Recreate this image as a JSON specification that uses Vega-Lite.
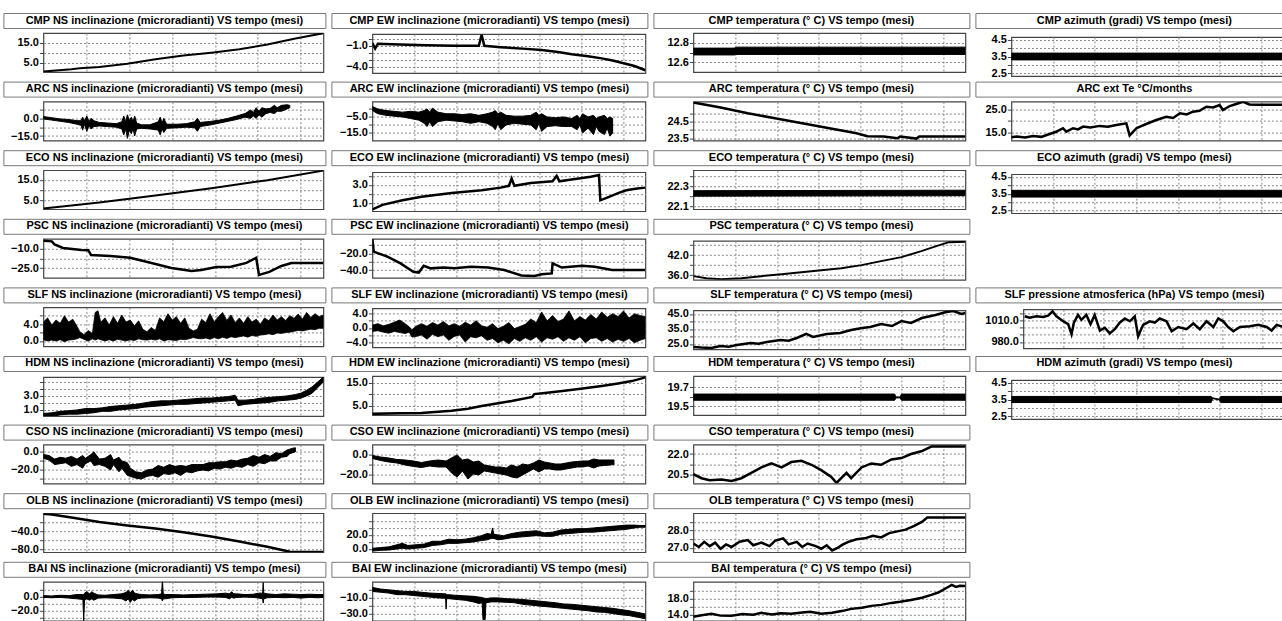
{
"$schema":"https://vega.github.io/schema/vega-lite/v6.json",
"padding":{"left":2.4,"top":12,"right":0,"bottom":0},
"background":"white",
"columns":4,
"align":{"row":"all","column":"each"},
"spacing":{"row":-4.4,"column":4},
"datasets":{
"cmpns":[{"t":0,"v":0.7},{"t":10,"v":1.9},{"t":13,"v":2.4},{"t":20,"v":3.0},{"t":30,"v":4.6},{"t":40,"v":6.8},{"t":46,"v":7.9},{"t":50,"v":8.6},{"t":60,"v":10.0},{"t":70,"v":11.7},{"t":80,"v":14.0},{"t":90,"v":17.0},{"t":100,"v":19.6}],
"cmpew":[{"t":0,"v":-0.6},{"t":1,"v":-1.4},{"t":2,"v":-0.7},{"t":10,"v":-0.8},{"t":20,"v":-0.9},{"t":30,"v":-1.0},{"t":39,"v":-1.0},{"t":40,"v":0.6},{"t":41,"v":-1.0},{"t":47,"v":-1.2},{"t":55,"v":-1.4},{"t":62,"v":-1.6},{"t":68,"v":-1.9},{"t":73,"v":-2.2},{"t":79,"v":-2.5},{"t":84,"v":-2.8},{"t":88,"v":-3.1},{"t":92,"v":-3.5},{"t":96,"v":-3.9},{"t":100,"v":-4.5}],
"cmpt":[{"t":0,"l":12.675,"h":12.745},{"t":15,"l":12.675,"h":12.745},{"t":16,"l":12.68,"h":12.755},{"t":100,"l":12.68,"h":12.755}],
"az":[{"t":0,"l":3.3,"h":3.7},{"t":103,"l":3.3,"h":3.7}],
"arcns":[{"t":0,"l":-0.5,"h":1.5},{"t":3,"l":-1.5,"h":0.5},{"t":6,"l":-2.5,"h":-0.5},{"t":9,"l":-3.5,"h":-1},{"t":12,"l":-5,"h":-2},{"t":13.5,"l":-6,"h":-2},{"t":14,"l":-10,"h":1},{"t":14.7,"l":-5,"h":-2},{"t":15.5,"l":-11,"h":2},{"t":16.3,"l":-6,"h":-3},{"t":17,"l":-9,"h":0},{"t":18,"l":-7,"h":-2},{"t":20,"l":-6.5,"h":-3.5},{"t":23,"l":-7,"h":-4},{"t":26,"l":-7.5,"h":-4.5},{"t":28,"l":-9,"h":-3},{"t":28.7,"l":-14,"h":2},{"t":29.4,"l":-9,"h":-3},{"t":30,"l":-17,"h":3},{"t":30.7,"l":-10,"h":-2},{"t":31.4,"l":-13,"h":1},{"t":32,"l":-9,"h":-3},{"t":32.6,"l":-15,"h":2},{"t":33.3,"l":-9,"h":-4},{"t":35,"l":-8.5,"h":-5.5},{"t":38,"l":-9,"h":-5.5},{"t":41,"l":-10,"h":-3},{"t":41.7,"l":-14,"h":1},{"t":42.4,"l":-9,"h":-4},{"t":43,"l":-12,"h":0},{"t":44,"l":-8.5,"h":-5},{"t":48,"l":-8,"h":-5},{"t":51,"l":-7.5,"h":-4.5},{"t":54,"l":-8,"h":-3},{"t":55,"l":-11,"h":0},{"t":56,"l":-7,"h":-3.5},{"t":60,"l":-5.5,"h":-2.5},{"t":63,"l":-4,"h":-1.5},{"t":66,"l":-2.5,"h":0},{"t":69,"l":-1,"h":2},{"t":72,"l":1,"h":4},{"t":74,"l":0,"h":7},{"t":75,"l":2,"h":5},{"t":76,"l":0,"h":9},{"t":77,"l":3,"h":6},{"t":78,"l":1,"h":9},{"t":79.5,"l":4,"h":8},{"t":81,"l":5,"h":8.5},{"t":82.5,"l":4,"h":11},{"t":83.5,"l":6,"h":9},{"t":85,"l":6,"h":11},{"t":87,"l":8,"h":11.5},{"t":88,"l":9,"h":11}],
"arcew":[{"t":0,"l":-1,"h":1.5},{"t":2,"l":-3,"h":0},{"t":5,"l":-4,"h":-1},{"t":8,"l":-4.5,"h":-1.5},{"t":11,"l":-5,"h":-2},{"t":14,"l":-6,"h":-1.5},{"t":17,"l":-7,"h":-2},{"t":19,"l":-9,"h":-1},{"t":20,"l":-11,"h":0},{"t":21,"l":-8,"h":-2},{"t":22,"l":-11,"h":0.5},{"t":24,"l":-8,"h":-2},{"t":27,"l":-7,"h":-3},{"t":30,"l":-7.5,"h":-3},{"t":33,"l":-8,"h":-3.5},{"t":36,"l":-9,"h":-3},{"t":39,"l":-8,"h":-4},{"t":42,"l":-9,"h":-3},{"t":44,"l":-11,"h":-2},{"t":45,"l":-13,"h":-1},{"t":46,"l":-9,"h":-3},{"t":47,"l":-13,"h":-2},{"t":49,"l":-10,"h":-4},{"t":52,"l":-9,"h":-4.5},{"t":55,"l":-9.5,"h":-4.5},{"t":58,"l":-10,"h":-4},{"t":60,"l":-13,"h":-2},{"t":61,"l":-9,"h":-4},{"t":62,"l":-14,"h":-3},{"t":64,"l":-11,"h":-5},{"t":67,"l":-10.5,"h":-5.5},{"t":70,"l":-11,"h":-5},{"t":73,"l":-11,"h":-6},{"t":75,"l":-13,"h":-4},{"t":76,"l":-10,"h":-6},{"t":77,"l":-15,"h":-3},{"t":79,"l":-12,"h":-5},{"t":81,"l":-16,"h":-4},{"t":82,"l":-11,"h":-6},{"t":83,"l":-14,"h":-5},{"t":85,"l":-16,"h":-4},{"t":86,"l":-12,"h":-6},{"t":87,"l":-17,"h":-5},{"t":88,"l":-15,"h":-6}],
"arct":[{"t":0,"v":25.65},{"t":10,"v":25.35},{"t":20,"v":25.0},{"t":30,"v":24.7},{"t":40,"v":24.4},{"t":50,"v":24.1},{"t":60,"v":23.8},{"t":64,"v":23.62},{"t":70,"v":23.6},{"t":75,"v":23.5},{"t":76,"v":23.6},{"t":82,"v":23.48},{"t":83,"v":23.6},{"t":100,"v":23.6}],
"arcte":[{"t":0,"v":13.0},{"t":2,"v":13.3},{"t":5,"v":12.9},{"t":8,"v":13.6},{"t":11,"v":13.2},{"t":13,"v":14.0},{"t":16.5,"v":15.4},{"t":19,"v":16.9},{"t":20.2,"v":15.4},{"t":22.7,"v":16.9},{"t":24.5,"v":16.4},{"t":26.4,"v":17.6},{"t":29,"v":17.2},{"t":32.5,"v":17.9},{"t":35.5,"v":17.5},{"t":38.6,"v":18.3},{"t":42.3,"v":19.0},{"t":43.5,"v":13.8},{"t":46,"v":16.9},{"t":49.6,"v":18.7},{"t":53.3,"v":20.4},{"t":57,"v":21.8},{"t":59.5,"v":21.3},{"t":62,"v":23.3},{"t":64.5,"v":22.8},{"t":66.8,"v":24.0},{"t":69.2,"v":24.4},{"t":71.7,"v":26.1},{"t":74.2,"v":25.8},{"t":76.6,"v":26.8},{"t":77.8,"v":24.7},{"t":80.3,"v":26.4},{"t":82.7,"v":27.3},{"t":85.2,"v":28.2},{"t":87.6,"v":27.1},{"t":90,"v":27.0},{"t":103,"v":27.0}],
"econs":[{"t":0,"v":0.8},{"t":20,"v":3.8},{"t":40,"v":7.2},{"t":60,"v":10.8},{"t":80,"v":14.8},{"t":100,"v":19.5}],
"ecoew":[{"t":0,"v":0.3},{"t":3.7,"v":0.8},{"t":11,"v":1.3},{"t":18,"v":1.7},{"t":29,"v":2.1},{"t":40,"v":2.4},{"t":47,"v":2.7},{"t":50,"v":2.9},{"t":51,"v":3.7},{"t":52,"v":2.9},{"t":58,"v":3.2},{"t":66,"v":3.4},{"t":67.5,"v":4.0},{"t":68.5,"v":3.4},{"t":73,"v":3.6},{"t":80,"v":3.9},{"t":83,"v":4.1},{"t":83.5,"v":1.3},{"t":86,"v":1.6},{"t":90,"v":2.1},{"t":93,"v":2.4},{"t":97,"v":2.6},{"t":100,"v":2.7}],
"ecot":[{"t":0,"l":22.2,"h":22.255},{"t":100,"l":22.205,"h":22.26}],
"pscns":[{"t":0,"v":-3.5},{"t":3,"v":-4},{"t":4,"v":-6.5},{"t":7,"v":-9.2},{"t":13.6,"v":-10.8},{"t":16,"v":-11},{"t":17,"v":-14.7},{"t":24,"v":-15.5},{"t":31,"v":-17},{"t":38.6,"v":-21},{"t":45.7,"v":-25},{"t":52.9,"v":-27.3},{"t":56.4,"v":-26.5},{"t":61.8,"v":-24.2},{"t":67,"v":-24},{"t":72.5,"v":-21},{"t":76,"v":-17},{"t":77,"v":-30.5},{"t":80.7,"v":-28},{"t":85,"v":-23.4},{"t":88.6,"v":-21},{"t":100,"v":-21}],
"pscew":[{"t":0,"v":-3},{"t":0.5,"v":-18},{"t":2.2,"v":-20},{"t":5.5,"v":-24},{"t":10.3,"v":-32},{"t":15,"v":-42},{"t":17,"v":-43},{"t":18.8,"v":-35},{"t":21.4,"v":-38},{"t":26,"v":-37},{"t":30,"v":-38},{"t":36,"v":-36},{"t":42.4,"v":-37},{"t":48.3,"v":-40},{"t":54.6,"v":-46.5},{"t":59.4,"v":-47},{"t":62,"v":-45},{"t":65.7,"v":-44},{"t":66,"v":-32},{"t":69.4,"v":-37},{"t":76.8,"v":-35},{"t":81.5,"v":-36},{"t":87.8,"v":-40},{"t":100,"v":-40}],
"psct":[{"t":0,"v":35.7},{"t":4.8,"v":35.1},{"t":10.3,"v":34.8},{"t":17.6,"v":35.1},{"t":25,"v":35.7},{"t":32.4,"v":36.3},{"t":39.7,"v":36.9},{"t":47,"v":37.5},{"t":54.4,"v":38.1},{"t":61.8,"v":39},{"t":69,"v":40.2},{"t":76.5,"v":41.4},{"t":83.8,"v":43.2},{"t":89.3,"v":44.7},{"t":94,"v":45.9},{"t":100,"v":46.0}],
"slfns":[{"t":0,"l":0.3,"h":4.5},{"t":1.5,"l":0,"h":5.5},{"t":3,"l":0.2,"h":3.8},{"t":4.5,"l":0,"h":5},{"t":6,"l":0.3,"h":4.2},{"t":7.5,"l":-0.2,"h":6},{"t":9,"l":0.2,"h":4.5},{"t":10.5,"l":0.3,"h":5.2},{"t":12,"l":0.5,"h":3.5},{"t":13,"l":0.8,"h":2.2},{"t":14.5,"l":0.4,"h":1.5},{"t":16,"l":0,"h":2.5},{"t":17.5,"l":0.5,"h":1.8},{"t":18.5,"l":0.2,"h":6.8},{"t":19.5,"l":0.5,"h":7.2},{"t":20.5,"l":0.3,"h":4.5},{"t":22,"l":0,"h":5.5},{"t":23.5,"l":0.3,"h":3.8},{"t":25,"l":0,"h":5.8},{"t":26.5,"l":0.4,"h":4.2},{"t":28,"l":0.2,"h":6.2},{"t":29.5,"l":0,"h":4.5},{"t":31,"l":0.3,"h":5},{"t":32.5,"l":0.1,"h":3.6},{"t":34,"l":0.5,"h":4.8},{"t":35.5,"l":0.3,"h":2.8},{"t":37,"l":0.2,"h":2.2},{"t":38.5,"l":0.4,"h":3.2},{"t":40,"l":0.2,"h":2.5},{"t":41.5,"l":0.5,"h":5.5},{"t":43,"l":0,"h":4.6},{"t":44.5,"l":0.3,"h":6.5},{"t":46,"l":0.2,"h":5},{"t":47.5,"l":0.1,"h":5.8},{"t":49,"l":0.4,"h":4.2},{"t":50.5,"l":0.3,"h":5.5},{"t":52,"l":0.5,"h":3},{"t":53.5,"l":0.8,"h":2.4},{"t":55,"l":0.6,"h":2.8},{"t":56.5,"l":0.5,"h":5.2},{"t":58,"l":0.7,"h":4.4},{"t":59.5,"l":0.4,"h":6.5},{"t":61,"l":0.8,"h":4.6},{"t":62.5,"l":0.5,"h":5.8},{"t":64,"l":0.9,"h":6.8},{"t":65.5,"l":0.6,"h":4.9},{"t":67,"l":1,"h":6.2},{"t":68.5,"l":0.8,"h":4.4},{"t":70,"l":1,"h":5.5},{"t":71.5,"l":1.2,"h":4.2},{"t":73,"l":0.9,"h":5.8},{"t":74.5,"l":1.3,"h":4.5},{"t":76,"l":1.1,"h":5.2},{"t":77.5,"l":1.4,"h":4},{"t":79,"l":1.5,"h":5.5},{"t":80.5,"l":1.7,"h":4.8},{"t":82,"l":1.5,"h":6.2},{"t":83.5,"l":1.9,"h":5},{"t":85,"l":1.8,"h":5.8},{"t":86.5,"l":2,"h":4.9},{"t":88,"l":2.1,"h":6},{"t":89.5,"l":2.3,"h":5.4},{"t":91,"l":2.5,"h":6.4},{"t":92.5,"l":2.4,"h":5.2},{"t":94,"l":2.6,"h":6.8},{"t":95.5,"l":2.8,"h":5.6},{"t":97,"l":2.7,"h":6.5},{"t":98.5,"l":3,"h":5.8},{"t":100,"l":3,"h":6.2}],
"slfew":[{"t":0,"l":-1,"h":0.8},{"t":2,"l":-0.8,"h":1.2},{"t":4,"l":-1.2,"h":0.6},{"t":6,"l":-1.5,"h":1},{"t":8,"l":-1,"h":1.6},{"t":10,"l":-1.3,"h":2.2},{"t":12,"l":-1.6,"h":1.2},{"t":13.5,"l":-1.2,"h":0.3},{"t":14.5,"l":-2.6,"h":-0.5},{"t":16,"l":-2.4,"h":0.5},{"t":18,"l":-2,"h":1.2},{"t":20,"l":-3.2,"h":0.5},{"t":22,"l":-1.8,"h":1.5},{"t":24,"l":-2.5,"h":0.8},{"t":26,"l":-2,"h":1.8},{"t":28,"l":-3.5,"h":0.6},{"t":30,"l":-2.4,"h":1.2},{"t":32,"l":-2,"h":0.5},{"t":34,"l":-4,"h":1.6},{"t":36,"l":-2.5,"h":0.8},{"t":38,"l":-2.8,"h":2},{"t":40,"l":-2.2,"h":0.6},{"t":42,"l":-3.5,"h":0.2},{"t":44,"l":-3,"h":1.2},{"t":46,"l":-4.2,"h":-0.2},{"t":48,"l":-3.5,"h":0.5},{"t":50,"l":-4.5,"h":1.5},{"t":52,"l":-3,"h":-0.2},{"t":54,"l":-3.8,"h":0.4},{"t":56,"l":-2.8,"h":1},{"t":58,"l":-3.5,"h":2.5},{"t":60,"l":-2.5,"h":1.5},{"t":62,"l":-4,"h":4.5},{"t":64,"l":-2.8,"h":2},{"t":66,"l":-3.2,"h":3.5},{"t":68,"l":-2.5,"h":1.8},{"t":70,"l":-3.8,"h":2.5},{"t":72,"l":-2.8,"h":4.8},{"t":74,"l":-3.5,"h":2},{"t":76,"l":-2.5,"h":3.2},{"t":78,"l":-4.2,"h":2.2},{"t":80,"l":-3,"h":3.8},{"t":82,"l":-2.8,"h":2.5},{"t":84,"l":-3.8,"h":4.5},{"t":86,"l":-3,"h":3},{"t":88,"l":-4,"h":4},{"t":90,"l":-3.2,"h":3.2},{"t":92,"l":-3.8,"h":4.8},{"t":94,"l":-3,"h":2.8},{"t":96,"l":-4.2,"h":4},{"t":98,"l":-3.5,"h":3.5},{"t":100,"l":-3,"h":3.2}],
"slft":[{"t":0,"v":23},{"t":3,"v":22.6},{"t":6.6,"v":22.3},{"t":10,"v":23.7},{"t":13,"v":23.2},{"t":16,"v":24.3},{"t":21,"v":25.7},{"t":24,"v":25.2},{"t":27,"v":26.3},{"t":32,"v":27.7},{"t":35,"v":27.2},{"t":38,"v":29},{"t":41.5,"v":31.7},{"t":44,"v":29.7},{"t":49,"v":31.7},{"t":54,"v":32.3},{"t":58,"v":34.3},{"t":62,"v":35.7},{"t":65,"v":36.3},{"t":69,"v":38.3},{"t":73,"v":37},{"t":76.5,"v":40.3},{"t":80,"v":39},{"t":84,"v":42.3},{"t":89,"v":44.3},{"t":93,"v":46.3},{"t":95.6,"v":47},{"t":98.5,"v":45},{"t":100,"v":45.7}],
"slfp":[{"t":0.5,"v":1016},{"t":2.4,"v":1014},{"t":5,"v":1016},{"t":7.6,"v":1015},{"t":9.5,"v":1017},{"t":11.2,"v":1023},{"t":12.7,"v":1016},{"t":15.3,"v":1009},{"t":17.2,"v":1005},{"t":18.5,"v":991},{"t":19.4,"v":1007},{"t":21,"v":1018},{"t":22.3,"v":1011},{"t":24.2,"v":1018},{"t":25.8,"v":1005},{"t":27.4,"v":1018},{"t":29.4,"v":996},{"t":31.3,"v":1000},{"t":33.2,"v":992},{"t":35.1,"v":998},{"t":37,"v":1007},{"t":39,"v":1013},{"t":40.9,"v":1009},{"t":42.8,"v":1016},{"t":44.1,"v":988},{"t":46,"v":1004},{"t":48.6,"v":1009},{"t":50.5,"v":1007},{"t":52.4,"v":1013},{"t":55,"v":1009},{"t":57,"v":995},{"t":59.5,"v":1001},{"t":62.7,"v":998},{"t":65.3,"v":1006},{"t":67.8,"v":998},{"t":70.4,"v":1009},{"t":73,"v":1001},{"t":74.9,"v":1013},{"t":76.8,"v":1009},{"t":78.7,"v":1001},{"t":80.7,"v":995},{"t":83.2,"v":1001},{"t":87,"v":1002},{"t":90.3,"v":1004},{"t":93.5,"v":1001},{"t":95.4,"v":996},{"t":97.3,"v":1004},{"t":100,"v":1001},{"t":103,"v":1003}],
"hdmns":[{"t":0,"l":0.1,"h":0.5},{"t":3,"l":0.1,"h":0.6},{"t":6,"l":0.3,"h":0.8},{"t":9,"l":0.4,"h":0.9},{"t":12,"l":0.4,"h":1.0},{"t":15,"l":0.5,"h":1.2},{"t":18,"l":0.6,"h":1.2},{"t":21,"l":0.8,"h":1.3},{"t":24,"l":0.8,"h":1.5},{"t":27,"l":1.0,"h":1.6},{"t":30,"l":1.1,"h":1.7},{"t":33,"l":1.2,"h":1.8},{"t":36,"l":1.4,"h":2.0},{"t":39,"l":1.5,"h":2.2},{"t":42,"l":1.6,"h":2.3},{"t":45,"l":1.7,"h":2.3},{"t":48,"l":1.8,"h":2.4},{"t":51,"l":1.8,"h":2.5},{"t":54,"l":1.9,"h":2.6},{"t":57,"l":2.0,"h":2.7},{"t":60,"l":2.1,"h":2.7},{"t":63,"l":2.2,"h":2.8},{"t":66,"l":2.3,"h":2.9},{"t":68.5,"l":2.4,"h":3.1},{"t":69.5,"l":1.6,"h":2.4},{"t":72,"l":1.8,"h":2.4},{"t":75,"l":1.9,"h":2.5},{"t":78,"l":2.0,"h":2.7},{"t":81,"l":2.1,"h":2.8},{"t":84,"l":2.3,"h":2.9},{"t":87,"l":2.4,"h":3.0},{"t":90,"l":2.5,"h":3.2},{"t":92,"l":2.7,"h":3.4},{"t":94,"l":3.0,"h":3.8},{"t":96,"l":3.4,"h":4.3},{"t":98,"l":4.2,"h":5.0},{"t":100,"l":5.0,"h":5.7}],
"hdmew":[{"t":0,"v":1.6},{"t":10,"v":1.8},{"t":18,"v":2.0},{"t":29,"v":2.9},{"t":35,"v":3.8},{"t":40,"v":5},{"t":46,"v":6.2},{"t":51,"v":7.1},{"t":58.6,"v":8.9},{"t":59.3,"v":10.1},{"t":64,"v":10.7},{"t":69.6,"v":11.4},{"t":77,"v":12.5},{"t":84,"v":13.6},{"t":90,"v":14.7},{"t":95,"v":15.7},{"t":100,"v":17.3}],
"hdmt":[{"t":0,"l":19.565,"h":19.63},{"t":74,"l":19.565,"h":19.63},{"t":74.5,"l":19.59,"h":19.6},{"t":76,"l":19.59,"h":19.6},{"t":76.5,"l":19.565,"h":19.63},{"t":100,"l":19.565,"h":19.63}],
"hdmaz":[{"t":0,"l":3.32,"h":3.68},{"t":73.5,"l":3.32,"h":3.68},{"t":74,"l":3.55,"h":3.6},{"t":76.5,"l":3.48,"h":3.52},{"t":77,"l":3.32,"h":3.68},{"t":103,"l":3.32,"h":3.68}],
"csons":[{"t":0,"l":-7,"h":-3},{"t":2,"l":-9,"h":-4},{"t":4,"l":-14,"h":-8},{"t":6,"l":-13,"h":-6},{"t":8,"l":-12,"h":-7},{"t":10,"l":-16,"h":-5},{"t":12,"l":-14,"h":-8},{"t":14,"l":-18,"h":-4},{"t":15,"l":-13,"h":-7},{"t":17,"l":-10,"h":-3},{"t":18,"l":-15,"h":0},{"t":20,"l":-14,"h":-8},{"t":22,"l":-16,"h":-7},{"t":24,"l":-20,"h":-3},{"t":25,"l":-14,"h":-9},{"t":27,"l":-22,"h":-6},{"t":28,"l":-18,"h":-10},{"t":30,"l":-26,"h":-12},{"t":31,"l":-27,"h":-18},{"t":33,"l":-29,"h":-22},{"t":35,"l":-30,"h":-23},{"t":37,"l":-27,"h":-20},{"t":39,"l":-26,"h":-19},{"t":41,"l":-28,"h":-15},{"t":43,"l":-24,"h":-17},{"t":45,"l":-25,"h":-14},{"t":47,"l":-23,"h":-16},{"t":49,"l":-26,"h":-15},{"t":51,"l":-22,"h":-16},{"t":53,"l":-23,"h":-14},{"t":55,"l":-21,"h":-14},{"t":57,"l":-20,"h":-14},{"t":59,"l":-21,"h":-12},{"t":61,"l":-18,"h":-12},{"t":63,"l":-19,"h":-11},{"t":65,"l":-17,"h":-11},{"t":67,"l":-18,"h":-9},{"t":69,"l":-16,"h":-10},{"t":71,"l":-17,"h":-8},{"t":73,"l":-14,"h":-7},{"t":75,"l":-16,"h":-4},{"t":77,"l":-12,"h":-6},{"t":79,"l":-13,"h":-3},{"t":81,"l":-10,"h":-5},{"t":83,"l":-10,"h":-1},{"t":85,"l":-6,"h":-2},{"t":87,"l":-5,"h":2},{"t":88,"l":-2,"h":3},{"t":89,"l":-1,"h":4},{"t":90,"l":0,"h":4.5}],
"csoew":[{"t":0,"l":-3.5,"h":-0.5},{"t":3,"l":-5.5,"h":-2},{"t":6,"l":-7,"h":-3},{"t":9,"l":-8,"h":-4.5},{"t":12,"l":-10,"h":-5},{"t":15,"l":-11.5,"h":-6},{"t":18,"l":-12.5,"h":-7.5},{"t":21,"l":-11,"h":-6},{"t":24,"l":-12,"h":-5},{"t":27,"l":-12,"h":-6},{"t":29,"l":-18,"h":-3},{"t":31,"l":-22,"h":0},{"t":33,"l":-16,"h":-5},{"t":35,"l":-24,"h":-4},{"t":37,"l":-19,"h":-7},{"t":39,"l":-20,"h":-6},{"t":41,"l":-16,"h":-10},{"t":43,"l":-17,"h":-11},{"t":45,"l":-18,"h":-12},{"t":47,"l":-19,"h":-12},{"t":49,"l":-20,"h":-13},{"t":51,"l":-22,"h":-10},{"t":53,"l":-23,"h":-12},{"t":55,"l":-20,"h":-9},{"t":57,"l":-17,"h":-10},{"t":59,"l":-14,"h":-8},{"t":61,"l":-17,"h":-5},{"t":63,"l":-14,"h":-7},{"t":65,"l":-14,"h":-8},{"t":67,"l":-15,"h":-9},{"t":69,"l":-15,"h":-9},{"t":71,"l":-14,"h":-8},{"t":73,"l":-13,"h":-7},{"t":75,"l":-12,"h":-6.5},{"t":77,"l":-12,"h":-6},{"t":79,"l":-11,"h":-6},{"t":81,"l":-13,"h":-4},{"t":83,"l":-11,"h":-5},{"t":85,"l":-10.5,"h":-5},{"t":87,"l":-10,"h":-5},{"t":88.5,"l":-9.5,"h":-5}],
"csot":[{"t":0,"v":20.5},{"t":3,"v":20.2},{"t":6,"v":20.05},{"t":10.3,"v":20.1},{"t":14,"v":20.0},{"t":17.6,"v":20.2},{"t":21.3,"v":20.6},{"t":25,"v":21.0},{"t":28.7,"v":21.3},{"t":32.4,"v":21.0},{"t":36,"v":21.4},{"t":39.7,"v":21.5},{"t":43.4,"v":21.2},{"t":47,"v":20.8},{"t":50.7,"v":20.3},{"t":52.6,"v":19.85},{"t":56.3,"v":20.6},{"t":58,"v":20.2},{"t":61.8,"v":21.0},{"t":65.4,"v":21.3},{"t":69,"v":21.2},{"t":72.8,"v":21.6},{"t":76.5,"v":21.7},{"t":80,"v":22.0},{"t":83.8,"v":22.2},{"t":87.5,"v":22.55},{"t":100,"v":22.55}],
"olbns":[{"t":0,"v":-1},{"t":3,"v":-2.5},{"t":10,"v":-9},{"t":20,"v":-19},{"t":30,"v":-27},{"t":40,"v":-34},{"t":50,"v":-42},{"t":60,"v":-52},{"t":70,"v":-63},{"t":80,"v":-75},{"t":88,"v":-86},{"t":100,"v":-86.3}],
"olbew":[{"t":0,"l":-3,"h":1},{"t":3,"l":-2,"h":2},{"t":6,"l":-1.5,"h":3},{"t":9,"l":0,"h":6},{"t":11,"l":1,"h":8},{"t":13,"l":0,"h":5},{"t":16,"l":1,"h":6},{"t":19,"l":2,"h":7},{"t":22,"l":5,"h":11},{"t":25,"l":6,"h":11},{"t":28,"l":8,"h":14},{"t":31,"l":8,"h":13},{"t":34,"l":9,"h":14},{"t":37,"l":10,"h":16},{"t":40,"l":12,"h":19},{"t":42,"l":13,"h":22},{"t":43.5,"l":15,"h":21},{"t":44,"l":15,"h":30},{"t":44.5,"l":15,"h":21},{"t":46,"l":13,"h":20},{"t":48,"l":14,"h":19},{"t":51,"l":16,"h":22},{"t":54,"l":17,"h":24},{"t":57,"l":18,"h":25},{"t":60,"l":19,"h":26},{"t":63,"l":18,"h":23},{"t":66,"l":18,"h":24},{"t":69,"l":21,"h":27},{"t":72,"l":22,"h":28},{"t":75,"l":23,"h":29},{"t":78,"l":24,"h":29},{"t":81,"l":24,"h":30},{"t":84,"l":25,"h":31},{"t":87,"l":26,"h":32},{"t":90,"l":27,"h":33},{"t":93,"l":28,"h":34},{"t":96,"l":30,"h":34},{"t":98,"l":31,"h":33.5},{"t":100,"l":31,"h":33.5}],
"olbt":[{"t":0,"v":27.25},{"t":2,"v":27.05},{"t":4,"v":27.35},{"t":6,"v":27.1},{"t":8,"v":27.3},{"t":10,"v":26.95},{"t":12,"v":27.2},{"t":14,"v":27.05},{"t":17,"v":27.35},{"t":20,"v":27.45},{"t":22,"v":27.15},{"t":25,"v":27.3},{"t":28,"v":27.1},{"t":30,"v":27.4},{"t":33,"v":27.55},{"t":35,"v":27.2},{"t":38,"v":27.35},{"t":40,"v":27.05},{"t":42,"v":27.25},{"t":45,"v":27.1},{"t":47,"v":26.95},{"t":49,"v":27.15},{"t":51,"v":26.85},{"t":53,"v":27.0},{"t":55,"v":27.2},{"t":57,"v":27.35},{"t":60,"v":27.5},{"t":63,"v":27.55},{"t":66,"v":27.7},{"t":69,"v":27.6},{"t":72,"v":27.85},{"t":75,"v":27.95},{"t":78,"v":28.05},{"t":81,"v":28.25},{"t":84,"v":28.5},{"t":86,"v":28.75},{"t":100,"v":28.75}],
"bains":[{"t":0,"l":-1,"h":1.5},{"t":3,"l":-1.5,"h":1},{"t":6,"l":-1,"h":2},{"t":9,"l":-2,"h":1.5},{"t":12,"l":-3,"h":3},{"t":14.1,"l":-4,"h":3},{"t":14.4,"l":-35,"h":3},{"t":14.7,"l":-5,"h":5},{"t":15.5,"l":-3,"h":7},{"t":16.5,"l":-5,"h":4},{"t":17.3,"l":-3,"h":7},{"t":18,"l":-5,"h":5},{"t":19.5,"l":-2,"h":2.5},{"t":22,"l":-1.5,"h":2},{"t":25,"l":-2,"h":3},{"t":28,"l":-3,"h":4},{"t":29.5,"l":-6,"h":6},{"t":30.3,"l":-3,"h":9},{"t":31,"l":-8,"h":5},{"t":31.8,"l":-4,"h":9},{"t":32.6,"l":-6,"h":5},{"t":33.5,"l":-3,"h":4},{"t":35,"l":-2,"h":3},{"t":38,"l":-1.5,"h":2.5},{"t":41,"l":-2,"h":3},{"t":42.2,"l":-3,"h":4},{"t":42.5,"l":-6,"h":24},{"t":42.8,"l":-3,"h":4},{"t":43.5,"l":-3,"h":3},{"t":46,"l":-1.5,"h":3},{"t":50,"l":-1,"h":2.5},{"t":54,"l":-1,"h":3},{"t":58,"l":-0.5,"h":3.5},{"t":62,"l":-0.5,"h":4},{"t":65,"l":-1,"h":5},{"t":66.5,"l":-3,"h":4},{"t":67.2,"l":-1,"h":7},{"t":68,"l":-2,"h":4},{"t":69,"l":-1,"h":4},{"t":72,"l":-0.5,"h":3},{"t":75,"l":-1,"h":3.5},{"t":77,"l":-2,"h":5},{"t":78.3,"l":-3,"h":5},{"t":78.5,"l":-9,"h":20},{"t":78.7,"l":-3,"h":5},{"t":80,"l":-1.5,"h":4},{"t":83,"l":-1,"h":3},{"t":86,"l":-1.5,"h":4},{"t":89,"l":-1,"h":3.5},{"t":92,"l":-2,"h":3},{"t":95,"l":-1,"h":3.5},{"t":98,"l":-1.5,"h":3},{"t":100,"l":-1,"h":3}],
"baiew":[{"t":0,"l":-2,"h":3},{"t":3,"l":-3,"h":1},{"t":6,"l":-4,"h":0},{"t":9,"l":-6,"h":-1},{"t":12,"l":-6,"h":-2},{"t":15,"l":-7,"h":-2},{"t":18,"l":-8,"h":-3},{"t":21,"l":-9,"h":-4},{"t":24,"l":-10,"h":-4.5},{"t":26.8,"l":-10.5,"h":-5},{"t":27,"l":-24,"h":-5},{"t":27.2,"l":-11,"h":-6},{"t":28,"l":-11,"h":-6},{"t":31,"l":-12,"h":-7},{"t":34,"l":-13,"h":-7.5},{"t":37,"l":-15,"h":-8},{"t":39,"l":-17,"h":-9},{"t":40.2,"l":-16,"h":-9.5},{"t":40.5,"l":-37,"h":-10},{"t":41.3,"l":-37,"h":-10.5},{"t":41.6,"l":-16,"h":-11},{"t":43.5,"l":-15,"h":-10},{"t":46,"l":-15,"h":-10},{"t":49,"l":-15.5,"h":-11},{"t":52,"l":-16,"h":-11.5},{"t":55,"l":-18,"h":-12},{"t":58,"l":-19,"h":-13},{"t":61,"l":-20,"h":-14},{"t":64,"l":-21,"h":-15},{"t":67,"l":-22,"h":-16},{"t":70,"l":-23,"h":-17.5},{"t":73,"l":-24,"h":-18},{"t":76,"l":-25,"h":-19},{"t":79,"l":-26,"h":-20},{"t":82,"l":-27.5,"h":-21},{"t":85,"l":-28,"h":-22},{"t":88,"l":-29.5,"h":-23},{"t":91,"l":-31,"h":-24.5},{"t":94,"l":-32,"h":-26},{"t":97,"l":-34,"h":-28},{"t":100,"l":-36,"h":-30}],
"bait":[{"t":0,"v":13.5},{"t":3,"v":13.9},{"t":6.6,"v":14.25},{"t":10,"v":13.8},{"t":14,"v":13.75},{"t":18,"v":14.2},{"t":22,"v":14.0},{"t":25,"v":14.5},{"t":29,"v":14.1},{"t":32,"v":14.4},{"t":36,"v":14.25},{"t":40,"v":14.6},{"t":43,"v":14.75},{"t":47,"v":14.3},{"t":51,"v":14.5},{"t":55,"v":15.0},{"t":58,"v":15.5},{"t":62,"v":15.8},{"t":65.4,"v":16.25},{"t":69,"v":16.5},{"t":72.8,"v":17.0},{"t":76,"v":17.3},{"t":80,"v":17.75},{"t":84,"v":18.3},{"t":87.5,"v":19.0},{"t":90,"v":19.6},{"t":93,"v":20.75},{"t":95,"v":21.5},{"t":96.5,"v":21.0},{"t":98,"v":21.3},{"t":100,"v":21.25}]
},
"concat":[
{"spacing":3,"vconcat":[{"width":322,"height":15,"data":{"values":[{}]},"mark":"text","encoding":{"text":{"value":"CMP NS  inclinazione (microradianti) VS tempo (mesi)"}},"view":{"stroke":"#777"}},{"spacing":0,"hconcat":[{"width":1,"height":39,"data":{"values":[{}]},"mark":"text","encoding":{"text":{"value":""}},"view":{"stroke":null}},
{"width":280,"height":39,"data":{"name":"cmpns"},"mark":{"type":"line","clip":true},"encoding":{"x":{"field":"t","type":"quantitative","scale":{"domain":[0,100],"nice":false},"axis":{"values":[15.4,30.7,46,61.3,76.6,91.9],"title":null}},"y":{"field":"v","type":"quantitative","scale":{"domain":[0.5,19.7],"nice":false,"zero":false},"axis":{"values":[5,10,15],"labelExpr":"indexof([5,15],datum.value)>=0?datum.label:''","title":null}}}}]}]},
{"spacing":3,"vconcat":[{"width":316,"height":15,"data":{"values":[{}]},"mark":"text","encoding":{"text":{"value":"CMP EW  inclinazione (microradianti) VS tempo (mesi)"}},"view":{"stroke":"#777"}},{"spacing":0,"hconcat":[{"width":1,"height":39,"data":{"values":[{}]},"mark":"text","encoding":{"text":{"value":""}},"view":{"stroke":null}},
{"width":273,"height":39,"data":{"name":"cmpew"},"mark":{"type":"line","clip":true,"strokeWidth":2.5},"encoding":{"x":{"field":"t","type":"quantitative","scale":{"domain":[0,100],"nice":false},"axis":{"values":[15.4,30.7,46,61.3,76.6,91.9],"title":null}},"y":{"field":"v","type":"quantitative","scale":{"domain":[-4.9,0.7],"nice":false,"zero":false},"axis":{"values":[-4,-3,-2,-1,0],"labelExpr":"indexof([-1,-4],datum.value)>=0?datum.label:''","title":null,"minExtent":39,"maxExtent":39}}}}]}]},
{"spacing":3,"vconcat":[{"width":316,"height":15,"data":{"values":[{}]},"mark":"text","encoding":{"text":{"value":"CMP temperatura (° C) VS tempo (mesi)"}},"view":{"stroke":"#777"}},{"spacing":0,"hconcat":[{"width":1,"height":39,"data":{"values":[{}]},"mark":"text","encoding":{"text":{"value":""}},"view":{"stroke":null}},
{"width":272,"height":39,"data":{"name":"cmpt"},"mark":{"type":"area","clip":true},"encoding":{"x":{"field":"t","type":"quantitative","scale":{"domain":[0,100],"nice":false},"axis":{"values":[15.4,30.7,46,61.3,76.6,91.9],"title":null}},"y":{"field":"l","type":"quantitative","scale":{"domain":[12.5,12.9],"nice":false,"zero":false},"axis":{"values":[12.6,12.7,12.8],"labelExpr":"indexof([12.6,12.8],datum.value)>=0?datum.label:''","title":null}},"y2":{"field":"h"}}}]}]},
{"spacing":3,"vconcat":[{"width":318,"height":15,"data":{"values":[{}]},"mark":"text","encoding":{"text":{"value":"CMP azimuth (gradi) VS tempo (mesi)"}},"view":{"stroke":"#777"}},{"spacing":0,"hconcat":[{"width":1,"height":39,"data":{"values":[{}]},"mark":"text","encoding":{"text":{"value":""}},"view":{"stroke":null}},
{"width":280,"height":39,"data":{"name":"az"},"mark":{"type":"area","clip":true},"encoding":{"x":{"field":"t","type":"quantitative","scale":{"domain":[0,103],"nice":false},"axis":{"values":[15.4,30.7,46,61.3,76.6,91.9],"title":null}},"y":{"field":"l","type":"quantitative","scale":{"domain":[2.35,4.65],"nice":false,"zero":false},"axis":{"values":[2.5,3,3.5,4,4.5],"labelExpr":"indexof([2.5,3.5,4.5],datum.value)>=0?datum.label:''","title":null,"minExtent":34,"maxExtent":34}},"y2":{"field":"h"}}}]}]},

{"spacing":3,"vconcat":[{"width":322,"height":15,"data":{"values":[{}]},"mark":"text","encoding":{"text":{"value":"ARC NS inclinazione (microradianti) VS tempo (mesi)"}},"view":{"stroke":"#777"}},{"spacing":0,"hconcat":[{"width":1,"height":39,"data":{"values":[{}]},"mark":"text","encoding":{"text":{"value":""}},"view":{"stroke":null}},
{"width":280,"height":39,"data":{"name":"arcns"},"mark":{"type":"area","clip":true},"encoding":{"x":{"field":"t","type":"quantitative","scale":{"domain":[0,100],"nice":false},"axis":{"values":[15.4,30.7,46,61.3,76.6,91.9],"title":null}},"y":{"field":"l","type":"quantitative","scale":{"domain":[-18.9,14.2],"nice":false,"zero":false},"axis":{"values":[-15,-7.5,0,7.5],"labelExpr":"indexof([0,-15],datum.value)>=0?datum.label:''","title":null}},"y2":{"field":"h"}}}]}]},
{"spacing":3,"vconcat":[{"width":316,"height":15,"data":{"values":[{}]},"mark":"text","encoding":{"text":{"value":"ARC EW  inclinazione (microradianti) VS tempo (mesi)"}},"view":{"stroke":"#777"}},{"spacing":0,"hconcat":[{"width":1,"height":39,"data":{"values":[{}]},"mark":"text","encoding":{"text":{"value":""}},"view":{"stroke":null}},
{"width":273,"height":39,"data":{"name":"arcew"},"mark":{"type":"area","clip":true},"encoding":{"x":{"field":"t","type":"quantitative","scale":{"domain":[0,100],"nice":false},"axis":{"values":[15.4,30.7,46,61.3,76.6,91.9],"title":null}},"y":{"field":"l","type":"quantitative","scale":{"domain":[-19.8,4.6],"nice":false,"zero":false},"axis":{"values":[-15,-10,-5,0],"labelExpr":"indexof([-5,-15],datum.value)>=0?datum.label:''","title":null,"minExtent":39,"maxExtent":39}},"y2":{"field":"h"}}}]}]},
{"spacing":3,"vconcat":[{"width":316,"height":15,"data":{"values":[{}]},"mark":"text","encoding":{"text":{"value":"ARC temperatura (° C) VS tempo (mesi)"}},"view":{"stroke":"#777"}},{"spacing":0,"hconcat":[{"width":1,"height":39,"data":{"values":[{}]},"mark":"text","encoding":{"text":{"value":""}},"view":{"stroke":null}},
{"width":272,"height":39,"data":{"name":"arct"},"mark":{"type":"line","clip":true,"strokeWidth":2.5},"encoding":{"x":{"field":"t","type":"quantitative","scale":{"domain":[0,100],"nice":false},"axis":{"values":[15.4,30.7,46,61.3,76.6,91.9],"title":null}},"y":{"field":"v","type":"quantitative","scale":{"domain":[23.36,25.7],"nice":false,"zero":false},"axis":{"values":[23.5,24,24.5,25],"labelExpr":"indexof([23.5,24.5],datum.value)>=0?datum.label:''","title":null}}}}]}]},
{"spacing":3,"vconcat":[{"width":318,"height":15,"data":{"values":[{}]},"mark":"text","encoding":{"text":{"value":"ARC ext Te °C/months"}},"view":{"stroke":"#777"}},{"spacing":0,"hconcat":[{"width":1,"height":39,"data":{"values":[{}]},"mark":"text","encoding":{"text":{"value":""}},"view":{"stroke":null}},
{"width":280,"height":39,"data":{"name":"arcte"},"mark":{"type":"line","clip":true,"strokeWidth":2.5},"encoding":{"x":{"field":"t","type":"quantitative","scale":{"domain":[0,103],"nice":false},"axis":{"values":[15.4,30.7,46,61.3,76.6,91.9],"title":null}},"y":{"field":"v","type":"quantitative","scale":{"domain":[11.6,28.3],"nice":false,"zero":false},"axis":{"values":[15,20,25],"labelExpr":"indexof([15,25],datum.value)>=0?datum.label:''","title":null,"minExtent":34,"maxExtent":34}}}}]}]},

{"spacing":3,"vconcat":[{"width":322,"height":15,"data":{"values":[{}]},"mark":"text","encoding":{"text":{"value":"ECO NS  inclinazione (microradianti) VS tempo (mesi)"}},"view":{"stroke":"#777"}},{"spacing":0,"hconcat":[{"width":1,"height":39,"data":{"values":[{}]},"mark":"text","encoding":{"text":{"value":""}},"view":{"stroke":null}},
{"width":280,"height":39,"data":{"name":"econs"},"mark":{"type":"line","clip":true},"encoding":{"x":{"field":"t","type":"quantitative","scale":{"domain":[0,100],"nice":false},"axis":{"values":[15.4,30.7,46,61.3,76.6,91.9],"title":null}},"y":{"field":"v","type":"quantitative","scale":{"domain":[0.5,19.7],"nice":false,"zero":false},"axis":{"values":[5,10,15],"labelExpr":"indexof([5,15],datum.value)>=0?datum.label:''","title":null}}}}]}]},
{"spacing":3,"vconcat":[{"width":316,"height":15,"data":{"values":[{}]},"mark":"text","encoding":{"text":{"value":"ECO EW  inclinazione (microradianti) VS tempo (mesi)"}},"view":{"stroke":"#777"}},{"spacing":0,"hconcat":[{"width":1,"height":39,"data":{"values":[{}]},"mark":"text","encoding":{"text":{"value":""}},"view":{"stroke":null}},
{"width":273,"height":39,"data":{"name":"ecoew"},"mark":{"type":"line","clip":true,"strokeWidth":2.5},"encoding":{"x":{"field":"t","type":"quantitative","scale":{"domain":[0,100],"nice":false},"axis":{"values":[15.4,30.7,46,61.3,76.6,91.9],"title":null}},"y":{"field":"v","type":"quantitative","scale":{"domain":[0.1,4.4],"nice":false,"zero":false},"axis":{"values":[1,2,3,4],"labelExpr":"indexof([1,3],datum.value)>=0?datum.label:''","title":null,"minExtent":39,"maxExtent":39}}}}]}]},
{"spacing":3,"vconcat":[{"width":316,"height":15,"data":{"values":[{}]},"mark":"text","encoding":{"text":{"value":"ECO temperatura (° C) VS tempo (mesi)"}},"view":{"stroke":"#777"}},{"spacing":0,"hconcat":[{"width":1,"height":39,"data":{"values":[{}]},"mark":"text","encoding":{"text":{"value":""}},"view":{"stroke":null}},
{"width":272,"height":39,"data":{"name":"ecot"},"mark":{"type":"area","clip":true},"encoding":{"x":{"field":"t","type":"quantitative","scale":{"domain":[0,100],"nice":false},"axis":{"values":[15.4,30.7,46,61.3,76.6,91.9],"title":null}},"y":{"field":"l","type":"quantitative","scale":{"domain":[22.07,22.46],"nice":false,"zero":false},"axis":{"values":[22.1,22.2,22.3,22.4],"labelExpr":"indexof([22.1,22.3],datum.value)>=0?datum.label:''","title":null}},"y2":{"field":"h"}}}]}]},
{"spacing":3,"vconcat":[{"width":318,"height":15,"data":{"values":[{}]},"mark":"text","encoding":{"text":{"value":"ECO azimuth (gradi) VS tempo (mesi)"}},"view":{"stroke":"#777"}},{"spacing":0,"hconcat":[{"width":1,"height":39,"data":{"values":[{}]},"mark":"text","encoding":{"text":{"value":""}},"view":{"stroke":null}},
{"width":280,"height":39,"data":{"name":"az"},"mark":{"type":"area","clip":true},"encoding":{"x":{"field":"t","type":"quantitative","scale":{"domain":[0,103],"nice":false},"axis":{"values":[15.4,30.7,46,61.3,76.6,91.9],"title":null}},"y":{"field":"l","type":"quantitative","scale":{"domain":[2.35,4.65],"nice":false,"zero":false},"axis":{"values":[2.5,3,3.5,4,4.5],"labelExpr":"indexof([2.5,3.5,4.5],datum.value)>=0?datum.label:''","title":null,"minExtent":34,"maxExtent":34}},"y2":{"field":"h"}}}]}]},

{"spacing":3,"vconcat":[{"width":322,"height":15,"data":{"values":[{}]},"mark":"text","encoding":{"text":{"value":"PSC NS  inclinazione (microradianti) VS tempo (mesi)"}},"view":{"stroke":"#777"}},{"spacing":0,"hconcat":[{"width":1,"height":39,"data":{"values":[{}]},"mark":"text","encoding":{"text":{"value":""}},"view":{"stroke":null}},
{"width":280,"height":39,"data":{"name":"pscns"},"mark":{"type":"line","clip":true,"strokeWidth":2.5},"encoding":{"x":{"field":"t","type":"quantitative","scale":{"domain":[0,100],"nice":false},"axis":{"values":[15.4,30.7,46,61.3,76.6,91.9],"title":null}},"y":{"field":"v","type":"quantitative","scale":{"domain":[-32.7,-2],"nice":false,"zero":false},"axis":{"values":[-25,-17.5,-10],"labelExpr":"indexof([-10,-25],datum.value)>=0?datum.label:''","title":null}}}}]}]},
{"spacing":3,"vconcat":[{"width":316,"height":15,"data":{"values":[{}]},"mark":"text","encoding":{"text":{"value":"PSC EW  inclinazione (microradianti) VS tempo (mesi)"}},"view":{"stroke":"#777"}},{"spacing":0,"hconcat":[{"width":1,"height":39,"data":{"values":[{}]},"mark":"text","encoding":{"text":{"value":""}},"view":{"stroke":null}},
{"width":273,"height":39,"data":{"name":"pscew"},"mark":{"type":"line","clip":true,"strokeWidth":2.5},"encoding":{"x":{"field":"t","type":"quantitative","scale":{"domain":[0,100],"nice":false},"axis":{"values":[15.4,30.7,46,61.3,76.6,91.9],"title":null}},"y":{"field":"v","type":"quantitative","scale":{"domain":[-49.3,-2.6],"nice":false,"zero":false},"axis":{"values":[-40,-30,-20,-10],"labelExpr":"indexof([-20,-40],datum.value)>=0?datum.label:''","title":null,"minExtent":39,"maxExtent":39}}}}]}]},
{"spacing":3,"vconcat":[{"width":316,"height":15,"data":{"values":[{}]},"mark":"text","encoding":{"text":{"value":"PSC temperatura (° C) VS tempo (mesi)"}},"view":{"stroke":"#777"}},{"spacing":0,"hconcat":[{"width":1,"height":39,"data":{"values":[{}]},"mark":"text","encoding":{"text":{"value":""}},"view":{"stroke":null}},
{"width":272,"height":39,"data":{"name":"psct"},"mark":{"type":"line","clip":true},"encoding":{"x":{"field":"t","type":"quantitative","scale":{"domain":[0,100],"nice":false},"axis":{"values":[15.4,30.7,46,61.3,76.6,91.9],"title":null}},"y":{"field":"v","type":"quantitative","scale":{"domain":[34.6,46.3],"nice":false,"zero":false},"axis":{"values":[36,39,42,45],"labelExpr":"indexof([36,42],datum.value)>=0?datum.label:''","title":null}}}}]}]},
{"width":1,"height":1,"data":{"values":[{}]},"mark":"text","encoding":{"text":{"value":""}},"view":{"stroke":null}},

{"spacing":3,"vconcat":[{"width":322,"height":15,"data":{"values":[{}]},"mark":"text","encoding":{"text":{"value":"SLF NS inclinazione (microradianti) VS tempo (mesi)"}},"view":{"stroke":"#777"}},{"spacing":0,"hconcat":[{"width":1,"height":39,"data":{"values":[{}]},"mark":"text","encoding":{"text":{"value":""}},"view":{"stroke":null}},
{"width":280,"height":39,"data":{"name":"slfns"},"mark":{"type":"area","clip":true,"strokeWidth":0.8},"encoding":{"x":{"field":"t","type":"quantitative","scale":{"domain":[0,100],"nice":false},"axis":{"values":[15.4,30.7,46,61.3,76.6,91.9],"title":null}},"y":{"field":"l","type":"quantitative","scale":{"domain":[-1.3,8],"nice":false,"zero":false},"axis":{"values":[0,2,4,6],"labelExpr":"indexof([0,4],datum.value)>=0?datum.label:''","title":null}},"y2":{"field":"h"}}}]}]},
{"spacing":3,"vconcat":[{"width":316,"height":15,"data":{"values":[{}]},"mark":"text","encoding":{"text":{"value":"SLF EW  inclinazione (microradianti) VS tempo (mesi)"}},"view":{"stroke":"#777"}},{"spacing":0,"hconcat":[{"width":1,"height":39,"data":{"values":[{}]},"mark":"text","encoding":{"text":{"value":""}},"view":{"stroke":null}},
{"width":273,"height":39,"data":{"name":"slfew"},"mark":{"type":"area","clip":true,"strokeWidth":0.8},"encoding":{"x":{"field":"t","type":"quantitative","scale":{"domain":[0,100],"nice":false},"axis":{"values":[15.4,30.7,46,61.3,76.6,91.9],"title":null}},"y":{"field":"l","type":"quantitative","scale":{"domain":[-5.5,5.5],"nice":false,"zero":false},"axis":{"values":[-4,-2,0,2,4],"labelExpr":"indexof([-4,0,4],datum.value)>=0?datum.label:''","title":null,"minExtent":39,"maxExtent":39}},"y2":{"field":"h"}}}]}]},
{"spacing":3,"vconcat":[{"width":316,"height":15,"data":{"values":[{}]},"mark":"text","encoding":{"text":{"value":"SLF temperatura (° C) VS tempo (mesi)"}},"view":{"stroke":"#777"}},{"spacing":0,"hconcat":[{"width":1,"height":39,"data":{"values":[{}]},"mark":"text","encoding":{"text":{"value":""}},"view":{"stroke":null}},
{"width":272,"height":39,"data":{"name":"slft"},"mark":{"type":"line","clip":true,"strokeWidth":2.5},"encoding":{"x":{"field":"t","type":"quantitative","scale":{"domain":[0,100],"nice":false},"axis":{"values":[15.4,30.7,46,61.3,76.6,91.9],"title":null}},"y":{"field":"v","type":"quantitative","scale":{"domain":[21.4,47.4],"nice":false,"zero":false},"axis":{"values":[25,30,35,40,45],"labelExpr":"indexof([25,35,45],datum.value)>=0?datum.label:''","title":null}}}}]}]},
{"spacing":3,"vconcat":[{"width":318,"height":15,"data":{"values":[{}]},"mark":"text","encoding":{"text":{"value":"SLF pressione atmosferica (hPa) VS tempo (mesi)"}},"view":{"stroke":"#777"}},{"spacing":0,"hconcat":[{"width":1,"height":39,"data":{"values":[{}]},"mark":"text","encoding":{"text":{"value":""}},"view":{"stroke":null}},
{"width":268,"height":39,"data":{"name":"slfp"},"mark":{"type":"line","clip":true,"strokeWidth":2.5},"encoding":{"x":{"field":"t","type":"quantitative","scale":{"domain":[0,103],"nice":false},"axis":{"values":[15.4,30.7,46,61.3,76.6,91.9],"title":null}},"y":{"field":"v","type":"quantitative","scale":{"domain":[971,1025.7],"nice":false,"zero":false},"axis":{"values":[980,990,1000,1010,1020],"labelExpr":"indexof([980,1010],datum.value)>=0?datum.label:''","title":null,"minExtent":46,"maxExtent":46}}}}]}]},

{"spacing":3,"vconcat":[{"width":322,"height":15,"data":{"values":[{}]},"mark":"text","encoding":{"text":{"value":"HDM NS  inclinazione (microradianti) VS tempo (mesi)"}},"view":{"stroke":"#777"}},{"spacing":0,"hconcat":[{"width":1,"height":39,"data":{"values":[{}]},"mark":"text","encoding":{"text":{"value":""}},"view":{"stroke":null}},
{"width":280,"height":39,"data":{"name":"hdmns"},"mark":{"type":"area","clip":true},"encoding":{"x":{"field":"t","type":"quantitative","scale":{"domain":[0,100],"nice":false},"axis":{"values":[15.4,30.7,46,61.3,76.6,91.9],"title":null}},"y":{"field":"l","type":"quantitative","scale":{"domain":[0.14,5.7],"nice":false,"zero":false},"axis":{"values":[1,2,3,4,5],"labelExpr":"indexof([1,3],datum.value)>=0?datum.label:''","title":null}},"y2":{"field":"h"}}}]}]},
{"spacing":3,"vconcat":[{"width":316,"height":15,"data":{"values":[{}]},"mark":"text","encoding":{"text":{"value":"HDM EW inclinazione (microradianti) VS tempo (mesi)"}},"view":{"stroke":"#777"}},{"spacing":0,"hconcat":[{"width":1,"height":39,"data":{"values":[{}]},"mark":"text","encoding":{"text":{"value":""}},"view":{"stroke":null}},
{"width":273,"height":39,"data":{"name":"hdmew"},"mark":{"type":"line","clip":true,"strokeWidth":2.5},"encoding":{"x":{"field":"t","type":"quantitative","scale":{"domain":[0,100],"nice":false},"axis":{"values":[15.4,30.7,46,61.3,76.6,91.9],"title":null}},"y":{"field":"v","type":"quantitative","scale":{"domain":[1.1,17.9],"nice":false,"zero":false},"axis":{"values":[5,10,15],"labelExpr":"indexof([5,15],datum.value)>=0?datum.label:''","title":null,"minExtent":39,"maxExtent":39}}}}]}]},
{"spacing":3,"vconcat":[{"width":316,"height":15,"data":{"values":[{}]},"mark":"text","encoding":{"text":{"value":"HDM temperatura (° C) VS tempo (mesi)"}},"view":{"stroke":"#777"}},{"spacing":0,"hconcat":[{"width":1,"height":39,"data":{"values":[{}]},"mark":"text","encoding":{"text":{"value":""}},"view":{"stroke":null}},
{"width":272,"height":39,"data":{"name":"hdmt"},"mark":{"type":"area","clip":true},"encoding":{"x":{"field":"t","type":"quantitative","scale":{"domain":[0,100],"nice":false},"axis":{"values":[15.4,30.7,46,61.3,76.6,91.9],"title":null}},"y":{"field":"l","type":"quantitative","scale":{"domain":[19.41,19.82],"nice":false,"zero":false},"axis":{"values":[19.5,19.6,19.7],"labelExpr":"indexof([19.5,19.7],datum.value)>=0?datum.label:''","title":null}},"y2":{"field":"h"}}}]}]},
{"spacing":3,"vconcat":[{"width":318,"height":15,"data":{"values":[{}]},"mark":"text","encoding":{"text":{"value":"HDM azimuth (gradi) VS tempo (mesi)"}},"view":{"stroke":"#777"}},{"spacing":0,"hconcat":[{"width":1,"height":39,"data":{"values":[{}]},"mark":"text","encoding":{"text":{"value":""}},"view":{"stroke":null}},
{"width":280,"height":39,"data":{"name":"hdmaz"},"mark":{"type":"area","clip":true},"encoding":{"x":{"field":"t","type":"quantitative","scale":{"domain":[0,103],"nice":false},"axis":{"values":[15.4,30.7,46,61.3,76.6,91.9],"title":null}},"y":{"field":"l","type":"quantitative","scale":{"domain":[2.35,4.65],"nice":false,"zero":false},"axis":{"values":[2.5,3,3.5,4,4.5],"labelExpr":"indexof([2.5,3.5,4.5],datum.value)>=0?datum.label:''","title":null,"minExtent":34,"maxExtent":34}},"y2":{"field":"h"}}}]}]},

{"spacing":3,"vconcat":[{"width":322,"height":15,"data":{"values":[{}]},"mark":"text","encoding":{"text":{"value":"CSO NS inclinazione (microradianti) VS tempo (mesi)"}},"view":{"stroke":"#777"}},{"spacing":0,"hconcat":[{"width":1,"height":39,"data":{"values":[{}]},"mark":"text","encoding":{"text":{"value":""}},"view":{"stroke":null}},
{"width":280,"height":39,"data":{"name":"csons"},"mark":{"type":"area","clip":true},"encoding":{"x":{"field":"t","type":"quantitative","scale":{"domain":[0,100],"nice":false},"axis":{"values":[15.4,30.7,46,61.3,76.6,91.9],"title":null}},"y":{"field":"l","type":"quantitative","scale":{"domain":[-35,8],"nice":false,"zero":false},"axis":{"values":[-30,-20,-10,0],"labelExpr":"indexof([0,-20],datum.value)>=0?datum.label:''","title":null}},"y2":{"field":"h"}}}]}]},
{"spacing":3,"vconcat":[{"width":316,"height":15,"data":{"values":[{}]},"mark":"text","encoding":{"text":{"value":"CSO  EW  inclinazione (microradianti) VS tempo (mesi)"}},"view":{"stroke":"#777"}},{"spacing":0,"hconcat":[{"width":1,"height":39,"data":{"values":[{}]},"mark":"text","encoding":{"text":{"value":""}},"view":{"stroke":null}},
{"width":273,"height":39,"data":{"name":"csoew"},"mark":{"type":"area","clip":true},"encoding":{"x":{"field":"t","type":"quantitative","scale":{"domain":[0,100],"nice":false},"axis":{"values":[15.4,30.7,46,61.3,76.6,91.9],"title":null}},"y":{"field":"l","type":"quantitative","scale":{"domain":[-28.6,10.4],"nice":false,"zero":false},"axis":{"values":[-20,-10,0],"labelExpr":"indexof([0,-20],datum.value)>=0?datum.label:''","title":null,"minExtent":39,"maxExtent":39}},"y2":{"field":"h"}}}]}]},
{"spacing":3,"vconcat":[{"width":316,"height":15,"data":{"values":[{}]},"mark":"text","encoding":{"text":{"value":"CSO temperatura (° C) VS tempo (mesi)"}},"view":{"stroke":"#777"}},{"spacing":0,"hconcat":[{"width":1,"height":39,"data":{"values":[{}]},"mark":"text","encoding":{"text":{"value":""}},"view":{"stroke":null}},
{"width":272,"height":39,"data":{"name":"csot"},"mark":{"type":"line","clip":true,"strokeWidth":2.5},"encoding":{"x":{"field":"t","type":"quantitative","scale":{"domain":[0,100],"nice":false},"axis":{"values":[15.4,30.7,46,61.3,76.6,91.9],"title":null}},"y":{"field":"v","type":"quantitative","scale":{"domain":[19.8,22.7],"nice":false,"zero":false},"axis":{"values":[20.5,21.25,22],"labelExpr":"indexof([20.5,22],datum.value)>=0?datum.label:''","title":null}}}}]}]},
{"width":1,"height":1,"data":{"values":[{}]},"mark":"text","encoding":{"text":{"value":""}},"view":{"stroke":null}},

{"spacing":3,"vconcat":[{"width":322,"height":15,"data":{"values":[{}]},"mark":"text","encoding":{"text":{"value":"OLB NS  inclinazione (microradianti) VS tempo (mesi)"}},"view":{"stroke":"#777"}},{"spacing":0,"hconcat":[{"width":1,"height":39,"data":{"values":[{}]},"mark":"text","encoding":{"text":{"value":""}},"view":{"stroke":null}},
{"width":280,"height":39,"data":{"name":"olbns"},"mark":{"type":"line","clip":true,"strokeWidth":2.5},"encoding":{"x":{"field":"t","type":"quantitative","scale":{"domain":[0,100],"nice":false},"axis":{"values":[15.4,30.7,46,61.3,76.6,91.9],"title":null}},"y":{"field":"v","type":"quantitative","scale":{"domain":[-87,0.5],"nice":false,"zero":false},"axis":{"values":[-80,-60,-40,-20],"labelExpr":"indexof([-40,-80],datum.value)>=0?datum.label:''","title":null}}}}]}]},
{"spacing":3,"vconcat":[{"width":316,"height":15,"data":{"values":[{}]},"mark":"text","encoding":{"text":{"value":"OLB EW  inclinazione (microradianti) VS tempo (mesi)"}},"view":{"stroke":"#777"}},{"spacing":0,"hconcat":[{"width":1,"height":39,"data":{"values":[{}]},"mark":"text","encoding":{"text":{"value":""}},"view":{"stroke":null}},
{"width":273,"height":39,"data":{"name":"olbew"},"mark":{"type":"area","clip":true},"encoding":{"x":{"field":"t","type":"quantitative","scale":{"domain":[0,100],"nice":false},"axis":{"values":[15.4,30.7,46,61.3,76.6,91.9],"title":null}},"y":{"field":"l","type":"quantitative","scale":{"domain":[-4.6,51],"nice":false,"zero":false},"axis":{"values":[0,10,20,30,40],"labelExpr":"indexof([0,20],datum.value)>=0?datum.label:''","title":null,"minExtent":39,"maxExtent":39}},"y2":{"field":"h"}}}]}]},
{"spacing":3,"vconcat":[{"width":316,"height":15,"data":{"values":[{}]},"mark":"text","encoding":{"text":{"value":"OLB temperatura (° C) VS tempo (mesi)"}},"view":{"stroke":"#777"}},{"spacing":0,"hconcat":[{"width":1,"height":39,"data":{"values":[{}]},"mark":"text","encoding":{"text":{"value":""}},"view":{"stroke":null}},
{"width":272,"height":39,"data":{"name":"olbt"},"mark":{"type":"line","clip":true,"strokeWidth":2.5},"encoding":{"x":{"field":"t","type":"quantitative","scale":{"domain":[0,100],"nice":false},"axis":{"values":[15.4,30.7,46,61.3,76.6,91.9],"title":null}},"y":{"field":"v","type":"quantitative","scale":{"domain":[26.75,29],"nice":false,"zero":false},"axis":{"values":[27,27.5,28,28.5],"labelExpr":"indexof([27,28],datum.value)>=0?datum.label:''","title":null}}}}]}]},
{"width":1,"height":1,"data":{"values":[{}]},"mark":"text","encoding":{"text":{"value":""}},"view":{"stroke":null}},

{"spacing":3,"vconcat":[{"width":322,"height":15,"data":{"values":[{}]},"mark":"text","encoding":{"text":{"value":"BAI NS  inclinazione (microradianti) VS tempo (mesi)"}},"view":{"stroke":"#777"}},{"spacing":0,"hconcat":[{"width":1,"height":39,"data":{"values":[{}]},"mark":"text","encoding":{"text":{"value":""}},"view":{"stroke":null}},
{"width":280,"height":39,"data":{"name":"bains"},"mark":{"type":"area","clip":true},"encoding":{"x":{"field":"t","type":"quantitative","scale":{"domain":[0,100],"nice":false},"axis":{"values":[15.4,30.7,46,61.3,76.6,91.9],"title":null}},"y":{"field":"l","type":"quantitative","scale":{"domain":[-34,21],"nice":false,"zero":false},"axis":{"values":[-30,-20,-10,0,10],"labelExpr":"indexof([0,-20],datum.value)>=0?datum.label:''","title":null}},"y2":{"field":"h"}}}]}]},
{"spacing":3,"vconcat":[{"width":316,"height":15,"data":{"values":[{}]},"mark":"text","encoding":{"text":{"value":"BAI EW inclinazione (microradianti) VS tempo (mesi)"}},"view":{"stroke":"#777"}},{"spacing":0,"hconcat":[{"width":1,"height":39,"data":{"values":[{}]},"mark":"text","encoding":{"text":{"value":""}},"view":{"stroke":null}},
{"width":273,"height":39,"data":{"name":"baiew"},"mark":{"type":"area","clip":true},"encoding":{"x":{"field":"t","type":"quantitative","scale":{"domain":[0,100],"nice":false},"axis":{"values":[15.4,30.7,46,61.3,76.6,91.9],"title":null}},"y":{"field":"l","type":"quantitative","scale":{"domain":[-38.5,10],"nice":false,"zero":false},"axis":{"values":[-30,-20,-10,0],"labelExpr":"indexof([-10,-30],datum.value)>=0?datum.label:''","title":null,"minExtent":39,"maxExtent":39}},"y2":{"field":"h"}}}]}]},
{"spacing":3,"vconcat":[{"width":316,"height":15,"data":{"values":[{}]},"mark":"text","encoding":{"text":{"value":"BAI temperatura (° C) VS tempo (mesi)"}},"view":{"stroke":"#777"}},{"spacing":0,"hconcat":[{"width":1,"height":39,"data":{"values":[{}]},"mark":"text","encoding":{"text":{"value":""}},"view":{"stroke":null}},
{"width":272,"height":39,"data":{"name":"bait"},"mark":{"type":"line","clip":true,"strokeWidth":2.5},"encoding":{"x":{"field":"t","type":"quantitative","scale":{"domain":[0,100],"nice":false},"axis":{"values":[15.4,30.7,46,61.3,76.6,91.9],"title":null}},"y":{"field":"v","type":"quantitative","scale":{"domain":[12.5,22.3],"nice":false,"zero":false},"axis":{"values":[14,16,18,20],"labelExpr":"indexof([14,18],datum.value)>=0?datum.label:''","title":null}}}}]}]}
],
"config":{
"view":{"stroke":"#444","strokeWidth":1.2},
"axis":{"grid":true,"gridColor":"#888","gridDash":[2,2],"gridWidth":1,"gridOpacity":1,"domain":false,"labelFont":"Liberation Sans","labelFontWeight":"bold","labelFontSize":11,"labelColor":"#000","tickColor":"#444","tickSize":4,"labelPadding":1,"labelOverlap":false},
"axisX":{"labels":false,"ticks":false,"minExtent":0,"maxExtent":0},
"axisY":{"format":".1f","minExtent":38,"maxExtent":38},
"text":{"font":"Liberation Sans","fontWeight":"bold","fontSize":11,"color":"#000"},
"line":{"color":"#000","strokeWidth":2},
"area":{"color":"#000","stroke":"#000","strokeWidth":1}
}
}
